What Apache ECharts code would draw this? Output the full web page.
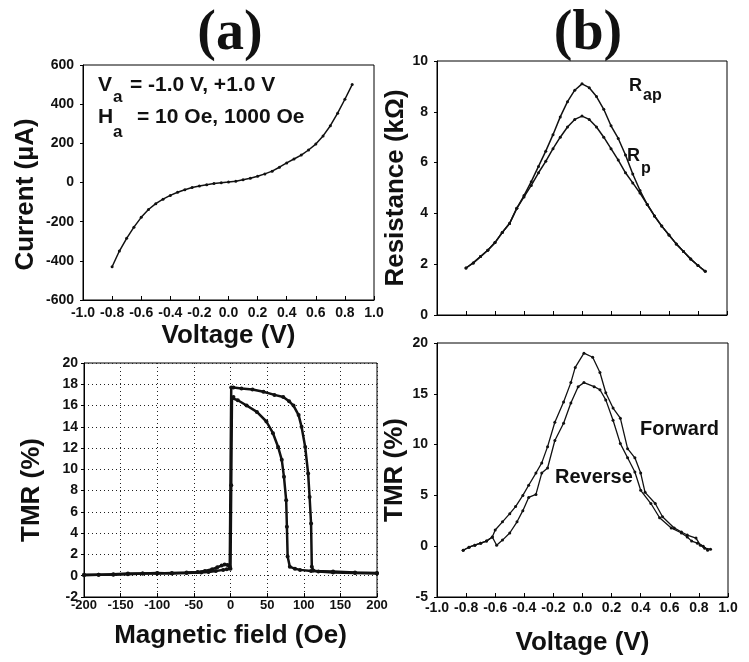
<!DOCTYPE html>
<html>
<head>
<meta charset="utf-8">
<title>MTJ I-V, R-V and TMR</title>
<script src="https://cdn.jsdelivr.net/npm/echarts@6/dist/echarts.min.js"></script>
<style>
html,body{margin:0;padding:0;background:#fff;}
#chart{width:749px;height:662px;}
</style>
</head>
<body>
<div id="chart"></div>
<script>
// (a) top : current vs voltage
var ivVoltage = [-0.80,-0.75,-0.70,-0.65,-0.60,-0.55,-0.50,-0.45,-0.40,-0.35,-0.30,-0.25,-0.20,-0.15,-0.10,-0.05,0.00,0.05,0.10,0.15,0.20,0.25,0.30,0.35,0.40,0.45,0.50,0.55,0.60,0.65,0.70,0.75,0.80,0.85];
var ivCurrent = [-430,-350,-285,-228,-178,-138,-108,-85,-66,-50,-37,-26,-18,-11,-5,-1,2,6,14,22,32,44,58,78,100,120,140,166,196,238,290,354,425,500];

// (b) top : resistance vs voltage
var rVoltage = [-0.80,-0.75,-0.70,-0.65,-0.60,-0.55,-0.50,-0.45,-0.40,-0.35,-0.30,-0.25,-0.20,-0.15,-0.10,-0.05,0.00,0.05,0.10,0.15,0.20,0.25,0.30,0.35,0.40,0.45,0.50,0.55,0.60,0.65,0.70,0.75,0.80,0.85];
var rAp = [1.85,2.05,2.3,2.55,2.85,3.25,3.6,4.2,4.7,5.25,5.85,6.45,7.1,7.8,8.4,8.85,9.1,8.95,8.6,8.1,7.45,6.95,6.3,5.55,4.9,4.35,3.9,3.5,3.15,2.8,2.5,2.2,1.95,1.72];
var rP = [1.85,2.05,2.3,2.55,2.85,3.25,3.6,4.2,4.65,5.1,5.6,6.05,6.55,7.0,7.4,7.7,7.83,7.7,7.4,7.0,6.55,6.1,5.6,5.2,4.8,4.35,3.9,3.5,3.15,2.8,2.5,2.2,1.95,1.72];

// (a) bottom : TMR loop vs magnetic field, two branches
var loopLowField = [-200,-180,-160,-140,-120,-100,-80,-60,-40,-30,-20,-10,-5,0,1,2,4,10,22,36,49,58,65,70,73,76,77,78,81,88,95,110,140,170,200];
var loopLowTMR = [0.1,0.1,0.15,0.2,0.2,0.25,0.2,0.25,0.3,0.35,0.45,0.55,0.6,0.65,8.5,16.7,16.8,16.5,16.0,15.4,14.5,13.4,12.1,10.9,9.3,7.1,4.6,1.8,0.85,0.65,0.55,0.45,0.4,0.3,0.25];
var loopHighField = [-200,-180,-160,-140,-120,-100,-80,-60,-45,-35,-25,-18,-12,-8,-4,-1,1,4,15,30,45,60,72,80,86,93,97,102,106,108,110,111,113,120,140,170,200];
var loopHighTMR = [0.05,0.1,0.1,0.15,0.2,0.2,0.25,0.3,0.35,0.45,0.6,0.8,0.95,1.05,1.0,0.85,17.7,17.7,17.6,17.5,17.3,17.0,16.8,16.4,16.0,15.1,14.0,12.1,9.6,7.4,4.9,0.85,0.5,0.4,0.3,0.25,0.2];

// (b) bottom : TMR vs voltage
var fwdVoltage = [-0.82,-0.78,-0.74,-0.70,-0.66,-0.62,-0.60,-0.55,-0.50,-0.46,-0.41,-0.37,-0.32,-0.28,-0.24,-0.19,-0.13,-0.08,-0.05,0.01,0.07,0.12,0.16,0.21,0.26,0.31,0.36,0.40,0.43,0.50,0.55,0.63,0.68,0.72,0.78,0.81,0.84,0.88];
var fwdTMR = [-0.4,-0.1,0.1,0.3,0.5,0.9,1.6,2.4,3.2,3.9,5.0,6.0,7.2,8.2,9.8,12.2,14.2,16.1,17.6,19.0,18.6,17.1,15.1,13.6,12.6,9.6,8.7,7.2,5.3,4.2,2.9,1.8,1.4,1.1,0.8,0.1,-0.2,-0.3];
var revVoltage = [-0.82,-0.78,-0.74,-0.70,-0.66,-0.62,-0.59,-0.55,-0.50,-0.45,-0.41,-0.37,-0.32,-0.28,-0.24,-0.19,-0.13,-0.08,-0.03,0.01,0.08,0.12,0.16,0.21,0.26,0.31,0.36,0.40,0.47,0.53,0.61,0.68,0.72,0.75,0.79,0.83,0.86];
var revTMR = [-0.4,-0.1,0.1,0.3,0.5,0.9,0.1,0.6,1.3,2.4,3.5,4.8,5.1,7.2,7.7,10.4,12.1,14.1,15.7,16.1,15.7,15.4,14.4,12.4,10.1,8.7,7.3,5.5,4.2,2.8,1.8,1.3,0.9,0.5,0.3,0.0,-0.4];

var ink = '#111';
var sans = '"Liberation Sans", Arial, sans-serif';

function pairs(xs, ys) {
	var out = [];
	for (var i = 0; i < xs.length; i++) out.push([xs[i], ys[i]]);
	return out;
}
function oneDecimal(v) {
	if (Math.abs(v) < 1e-9) return '0.0';
	return v.toFixed(1);
}

var axisLine = {show: true, onZero: false, lineStyle: {color: '#000', width: 1}};
var nameStyle = {fontFamily: sans, fontWeight: 'bold', fontSize: 26, color: ink};
var dotted = {show: true, lineStyle: {color: '#222', type: [1, 3], width: 1}};

function xAxis(grid, min, max, step, o) {
	return Object.assign({
		gridIndex: grid, type: 'value', min: min, max: max, interval: step,
		nameLocation: 'middle', nameTextStyle: nameStyle,
		axisLine: axisLine,
		axisTick: {show: true, inside: true, length: 4, lineStyle: {color: '#000'}},
		axisLabel: {fontFamily: sans, fontWeight: 'bold', fontSize: 14, color: ink, margin: 6},
		splitLine: {show: false}
	}, o);
}
function yAxis(grid, min, max, step, o) {
	return Object.assign({
		gridIndex: grid, type: 'value', min: min, max: max, interval: step,
		nameLocation: 'middle', nameTextStyle: nameStyle,
		axisLine: axisLine,
		axisTick: {show: true, inside: false, length: 3, lineStyle: {color: '#000'}},
		axisLabel: {fontFamily: sans, fontWeight: 'bold', fontSize: 14, color: ink, margin: 9},
		splitLine: {show: false}
	}, o);
}
function lineSeries(name, x, y, data, width, size) {
	return {
		name: name, type: 'line', xAxisIndex: x, yAxisIndex: y, data: data,
		symbol: 'circle', symbolSize: size, showSymbol: true,
		lineStyle: {color: ink, width: width},
		itemStyle: {color: ink},
		emphasis: {disabled: true}
	};
}

function txt(s, left, top, size) {
	return {type: 'text', left: left, top: top,
		style: {text: s, font: 'bold ' + size + 'px ' + sans, fill: ink}};
}

var chart = echarts.init(document.getElementById('chart'), null, {renderer: 'canvas'});

var option = {
	backgroundColor: '#fff',
	animation: false,
	title: [
		{text: '(a)', left: 225, top: 2, textAlign: 'center',
			textStyle: {fontFamily: '"Liberation Serif", "Times New Roman", serif', fontWeight: 'bold', fontSize: 56, color: ink}},
		{text: '(b)', left: 583, top: 2, textAlign: 'center',
			textStyle: {fontFamily: '"Liberation Serif", "Times New Roman", serif', fontWeight: 'bold', fontSize: 56, color: ink}}
	],
	grid: [
		{left: 83, top: 65, width: 291, height: 235, show: true, borderColor: '#000', borderWidth: 1, outerBoundsMode: 'none'},
		{left: 437, top: 61, width: 290, height: 254, show: true, borderColor: '#000', borderWidth: 1, outerBoundsMode: 'none'},
		{left: 84, top: 363, width: 293, height: 234, show: true, borderColor: '#000', borderWidth: 1, outerBoundsMode: 'none'},
		{left: 437, top: 343, width: 291, height: 254, show: true, borderColor: '#000', borderWidth: 1, outerBoundsMode: 'none'}
	],
	xAxis: [
		xAxis(0, -1, 1, 0.2, {name: 'Voltage (V)', nameGap: 23,
			axisLabel: {fontFamily: sans, fontWeight: 'bold', fontSize: 14, color: ink, margin: 6, formatter: oneDecimal}}),
		xAxis(1, -1, 1, 0.2, {axisLabel: {show: false}}),
		xAxis(2, -200, 200, 50, {name: 'Magnetic field (Oe)', nameGap: 26, splitLine: dotted,
			axisLabel: {fontFamily: sans, fontWeight: 'bold', fontSize: 13, color: ink, margin: 2}}),
		xAxis(3, -1, 1, 0.2, {name: 'Voltage (V)', nameGap: 33,
			axisLabel: {fontFamily: sans, fontWeight: 'bold', fontSize: 14, color: ink, margin: 4, formatter: oneDecimal}})
	],
	yAxis: [
		yAxis(0, -600, 600, 200, {name: 'Current (\u00b5A)', nameGap: 44,
			nameTextStyle: Object.assign({padding: [0, 24, 0, 0]}, nameStyle)}),
		yAxis(1, 0, 10, 2, {name: 'Resistance (k\u03a9)', nameGap: 19}),
		yAxis(2, -2, 20, 2, {name: 'TMR (%)', nameGap: 39, splitLine: dotted,
			nameTextStyle: Object.assign({padding: [0, 20, 0, 0]}, nameStyle),
			axisLabel: {fontFamily: sans, fontWeight: 'bold', fontSize: 14, color: ink, margin: 6}}),
		yAxis(3, -5, 20, 5, {name: 'TMR (%)', nameGap: 29})
	],
	series: [
		lineSeries('I-V', 0, 0, pairs(ivVoltage, ivCurrent), 1.5, 3),
		lineSeries('Rap', 1, 1, pairs(rVoltage, rAp), 1.5, 3),
		lineSeries('Rp', 1, 1, pairs(rVoltage, rP), 1.5, 3),
		lineSeries('Loop low', 2, 2, pairs(loopLowField, loopLowTMR), 2.5, 4),
		lineSeries('Loop high', 2, 2, pairs(loopHighField, loopHighTMR), 2.5, 4),
		lineSeries('Forward', 3, 3, pairs(fwdVoltage, fwdTMR), 1.3, 3),
		lineSeries('Reverse', 3, 3, pairs(revVoltage, revTMR), 1.3, 3)
	],
	graphic: [
		// bias and field conditions
		txt('V', 98, 75, 21),
		txt('a', 113, 89, 17),
		txt('= -1.0 V, +1.0 V', 130, 75, 21),
		txt('H', 98, 107, 21),
		txt('a', 113, 124, 17),
		txt('= 10 Oe, 1000 Oe', 137, 107, 21),
		// curve labels
		txt('R', 629, 77, 18),
		txt('ap', 643, 88, 16),
		txt('R', 627, 147, 18),
		txt('p', 641, 161, 16),
		txt('Forward', 640, 419, 20),
		txt('Reverse', 555, 467, 20)
	]
};

chart.setOption(option);
</script>
</body>
</html>
